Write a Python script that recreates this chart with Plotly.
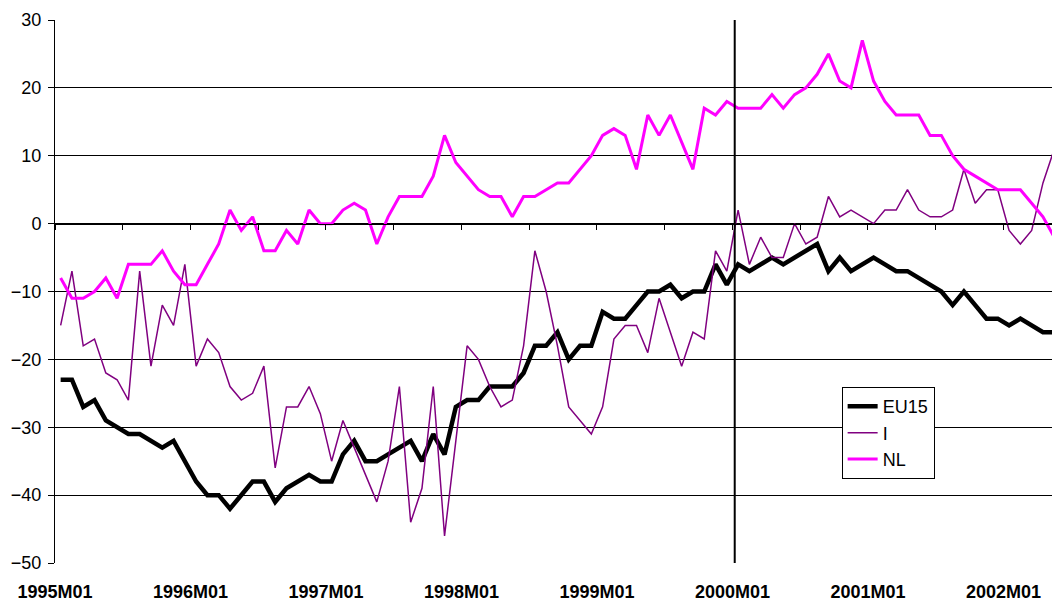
import plotly.graph_objects as go

# monthly categories 1995M01 ... 2002M06 (the picture is cut just after 2002M05)
months = [f"{y}M{m:02d}" for y in range(1995, 2003) for m in range(1, 13)][:90]

eu15 = [-23, -23, -27, -26, -29, -30, -31, -31, -32, -33, -32, -35,
        -38, -40, -40, -42, -40, -38, -38, -41, -39, -38, -37, -38,
        -38, -34, -32, -35, -35, -34, -33, -32, -35, -31, -34, -27,
        -26, -26, -24, -24, -24, -22, -18, -18, -16, -20, -18, -18,
        -13, -14, -14, -12, -10, -10, -9, -11, -10, -10, -6, -9,
        -6, -7, -6, -5, -6, -5, -4, -3, -7, -5, -7, -6,
        -5, -6, -7, -7, -8, -9, -10, -12, -10, -12, -14, -14,
        -15, -14, -15, -16, -16, -17]

italy = [-15, -7, -18, -17, -22, -23, -26, -7, -21, -12, -15, -6,
         -21, -17, -19, -24, -26, -25, -21, -36, -27, -27, -24, -28,
         -35, -29, -33, -37, -41, -35, -24, -44, -39, -24, -46, -32,
         -18, -20, -24, -27, -26, -18, -4, -10, -18, -27, -29, -31,
         -27, -17, -15, -15, -19, -11, -16, -21, -16, -17, -4, -7,
         2, -6, -2, -5, -5, 0, -3, -2, 4, 1, 2, 1,
         0, 2, 2, 5, 2, 1, 1, 2, 8, 3, 5, 5,
         -1, -3, -1, 6, 11, 6]

nl = [-8, -11, -11, -10, -8, -11, -6, -6, -6, -4, -7, -9,
      -9, -6, -3, 2, -1, 1, -4, -4, -1, -3, 2, 0,
      0, 2, 3, 2, -3, 1, 4, 4, 4, 7, 13, 9,
      7, 5, 4, 4, 1, 4, 4, 5, 6, 6, 8, 10,
      13, 14, 13, 8, 16, 13, 16, 12, 8, 17, 16, 18,
      17, 17, 17, 19, 17, 19, 20, 22, 25, 21, 20, 27,
      21, 18, 16, 16, 16, 13, 13, 10, 8, 7, 6, 5,
      5, 5, 3, 1, -2, -5]

year_labels = [m for m in months if m.endswith("M01")]
break_month = "2000M01"

FONT = "Liberation Sans, Arial, sans-serif"
xs = list(range(len(months)))
x_range = [-0.5, 87.8]

fig = go.Figure()
fig.add_trace(go.Scatter(x=xs, y=eu15, name="EU15", mode="lines",
                         line=dict(color="black", width=4.5)))
fig.add_trace(go.Scatter(x=xs, y=italy, name="I", mode="lines",
                         line=dict(color="#800080", width=1.5)))
fig.add_trace(go.Scatter(x=xs, y=nl, name="NL", mode="lines",
                         line=dict(color="#ff00ff", width=3)))
# invisible copy so the zero-crossing axis gets drawn
fig.add_trace(go.Scatter(x=xs, y=eu15, xaxis="x2", mode="lines", opacity=0,
                         showlegend=False, hoverinfo="skip"))

# vertical marker at the start of 2000
bx = months.index(break_month) - 0.3
fig.add_shape(type="line", xref="x", yref="paper", x0=bx, x1=bx, y0=0, y1=1,
              line=dict(color="black", width=2))

# page body has an 8px margin, the figure is sized around it
fig.update_layout(
    width=1044, height=593,
    margin=dict(l=47, r=0, t=12, b=38),
    plot_bgcolor="white", paper_bgcolor="white",
    font=dict(family=FONT, color="black"),
    xaxis=dict(
        range=x_range, showgrid=False, zeroline=False, showline=False,
        tickvals=[months.index(m) - 0.5 for m in year_labels],
        ticktext=year_labels, ticks="", ticklabelstandoff=16,
        tickfont=dict(size=18, weight="bold"),
    ),
    # category axis drawn through zero, with tick marks every six months
    xaxis2=dict(
        overlaying="x", anchor="free", position=0.625, range=x_range,
        showgrid=False, zeroline=False, showline=True, linecolor="black",
        linewidth=1, ticks="outside", ticklen=5, tickcolor="black",
        tickvals=[i - 0.5 for i in range(0, len(months), 6)],
        showticklabels=False,
    ),
    yaxis=dict(
        range=[-50, 30], dtick=10, showgrid=True, gridcolor="black",
        gridwidth=1, zeroline=False, showline=True, linecolor="black",
        ticks="outside", ticklen=6, tickcolor="black", ticklabelstandoff=3,
        tickfont=dict(size=18),
    ),
    legend=dict(
        x=0.789, y=0.324, xanchor="left", yanchor="top",
        bgcolor="white", bordercolor="black", borderwidth=1,
        font=dict(size=18), tracegroupgap=0,
    ),
)

fig.write_html("out.html")
